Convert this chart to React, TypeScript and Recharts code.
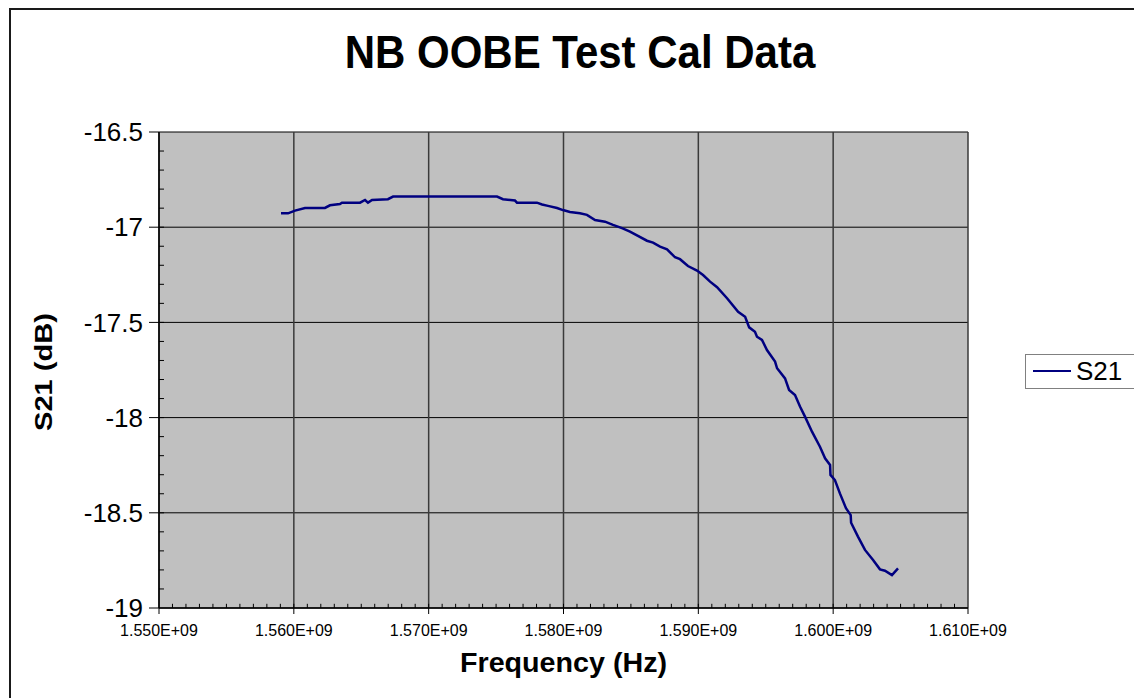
import React from 'react';
import { LineChart, Line, XAxis, YAxis, CartesianGrid, Legend, ReferenceLine } from 'recharts';

// Frequency in MHz (converted to Hz for plotting) and S21 in dB
const freqMHz = [
  1559.05, 1559.57, 1560.09, 1560.83, 1562.31, 1562.68, 1563.42, 1563.57, 1564.91, 1565.28,
  1565.5, 1565.8, 1566.98, 1567.36, 1575.07, 1575.51, 1576.4, 1576.55, 1578.03, 1578.41,
  1578.85, 1579.52, 1579.96, 1580.48, 1581.22, 1581.74, 1582.34, 1583.08, 1583.67, 1584.34,
  1584.93, 1585.52, 1586.19, 1586.64, 1587.16, 1587.68, 1588.27, 1588.64, 1589.23, 1589.9,
  1590.35, 1590.87, 1591.39, 1592.13, 1592.95, 1593.47, 1593.77, 1594.2, 1594.35, 1594.72,
  1595.09, 1595.69, 1595.84, 1596.43, 1596.73, 1597.17, 1597.54, 1597.91, 1598.43, 1599.02,
  1599.4, 1599.77, 1599.8, 1600.13, 1600.5, 1600.95, 1601.3, 1601.33, 1601.84, 1602.36,
  1602.96, 1603.47, 1603.84, 1604.36, 1604.81,
];
const s21Db = [
  -16.927, -16.927, -16.913, -16.899, -16.899, -16.885, -16.878, -16.871, -16.871, -16.857,
  -16.871, -16.857, -16.853, -16.839, -16.839, -16.853, -16.86, -16.871, -16.871, -16.881,
  -16.888, -16.899, -16.91, -16.92, -16.927, -16.935, -16.962, -16.971, -16.988, -17.005,
  -17.023, -17.046, -17.071, -17.081, -17.102, -17.116, -17.158, -17.168, -17.204, -17.228,
  -17.251, -17.286, -17.315, -17.373, -17.444, -17.47, -17.526, -17.549, -17.575, -17.592,
  -17.645, -17.706, -17.741, -17.794, -17.855, -17.881, -17.942, -17.995, -18.074, -18.153,
  -18.214, -18.249, -18.301, -18.328, -18.398, -18.476, -18.512, -18.552, -18.625, -18.695,
  -18.748, -18.797, -18.804, -18.827, -18.792,
];

const seriesName = 'S21';
const chartTitle = 'NB OOBE Test Cal Data';
const xAxisTitle = 'Frequency (Hz)';
const yAxisTitle = 'S21 (dB)';

const xTicks = [1.55e9, 1.56e9, 1.57e9, 1.58e9, 1.59e9, 1.6e9, 1.61e9];
const xTickLabels = ['1.550E+09', '1.560E+09', '1.570E+09', '1.580E+09', '1.590E+09', '1.600E+09', '1.610E+09'];
const yTicks = [-19, -18.5, -18, -17.5, -17, -16.5];
const yTickLabels = ['-19', '-18.5', '-18', '-17.5', '-17', '-16.5'];
const xDomain: [number, number] = [1.55e9, 1.61e9];
const yDomain: [number, number] = [-19, -16.5];
// minor tick marks (inside the plot area): every 1 MHz on x, every 0.1 dB on y
const minorXTicks = Array.from({ length: 59 }, (_, i) => 1.551e9 + i * 1e6);
const minorYTicks = Array.from({ length: 24 }, (_, i) => Math.round((-18.9 + i * 0.1) * 10) / 10);
// minor tick lengths expressed in axis units
const minorXTickLen = 0.022; // dB
const minorYTickLen = 0.37e6; // Hz

const data = freqMHz.map((m, i) => ({ f: m * 1e6, s21: s21Db[i] }));

const FONT = '"Liberation Sans", Arial, sans-serif';

const fmtX = (v: number) => {
  const i = xTicks.findIndex((t) => Math.abs(t - v) < 1);
  return i >= 0 ? xTickLabels[i] : '';
};
const fmtY = (v: number) => {
  const i = yTicks.findIndex((t) => Math.abs(t - v) < 1e-6);
  return i >= 0 ? yTickLabels[i] : '';
};

const XTitle = (props: any) => {
  const vb = props.viewBox || { x: 0, y: 0, width: 0, height: 0 };
  return (
    <text
      x={vb.x + vb.width / 2}
      y={vb.y + 64}
      textAnchor="middle"
      fontSize={28}
      fontWeight="bold"
      fill="#000"
      fontFamily={FONT}
      textLength={207}
      lengthAdjust="spacingAndGlyphs"
    >
      {xAxisTitle}
    </text>
  );
};

const YTitle = (props: any) => {
  const vb = props.viewBox || { x: 0, y: 0, width: 0, height: 0 };
  const cx = vb.x + 34;
  const cy = vb.y + vb.height / 2 + 2;
  return (
    <text
      x={cx}
      y={cy}
      transform={`rotate(-90, ${cx}, ${cy})`}
      textAnchor="middle"
      dominantBaseline="central"
      fontSize={23}
      fontWeight="bold"
      fill="#000"
      fontFamily={FONT}
      textLength={118}
      lengthAdjust="spacingAndGlyphs"
    >
      {yAxisTitle}
    </text>
  );
};

const renderLegend = (props: any) => {
  const payload = props.payload || [];
  return (
    <div
      style={{
        width: 120,
        height: 35,
        border: '1px solid #808080',
        background: '#fff',
        boxSizing: 'border-box',
        position: 'relative',
        fontFamily: FONT,
      }}
    >
      {payload.map((entry: any, idx: number) => (
        <div key={idx} style={{ position: 'absolute', left: 0, top: 0, width: '100%', height: '100%' }}>
          <svg width={40} height={6} style={{ position: 'absolute', left: 7, top: 13 }}>
            <line x1={0} y1={3} x2={38} y2={3} stroke={entry.color} strokeWidth={2} />
          </svg>
          <span
            style={{
              position: 'absolute',
              left: 50,
              top: 1,
              fontSize: 26,
              lineHeight: '30px',
              color: '#000',
            }}
          >
            {entry.value}
          </span>
        </div>
      ))}
    </div>
  );
};

export default function App() {
  return (
    <div
      style={{
        position: 'absolute',
        left: 0,
        top: 0,
        width: 1134,
        height: 698,
        overflow: 'hidden',
        background: '#fff',
        fontFamily: FONT,
      }}
    >
      <div
        style={{
          position: 'absolute',
          left: 9,
          top: 8,
          width: 1140,
          height: 720,
          border: '2px solid #1a1a1a',
          boxSizing: 'border-box',
        }}
      />
      <div
        style={{
          position: 'absolute',
          left: 0,
          top: 32,
          width: 1160,
          textAlign: 'center',
          fontSize: 42,
          lineHeight: '42px',
          fontWeight: 'bold',
          color: '#000',
          fontFamily: FONT,
          transform: 'scaleY(1.08)',
        }}
      >
        {chartTitle}
      </div>
      <div style={{ position: 'absolute', left: 0, top: 0 }}>
        <LineChart
          width={1134}
          height={698}
          data={data}
          margin={{ top: 132, right: 166, bottom: 20, left: 10 }}
        >
          <CartesianGrid
            vertical={false}
            stroke="#000"
            strokeWidth={1}
            fill="#C0C0C0"
            fillOpacity={1}
            horizontalValues={yTicks}
          />
          <CartesianGrid horizontal={false} stroke="#3a3a3a" strokeWidth={1.5} verticalValues={xTicks} />
          {minorXTicks.map((t) => (
            <ReferenceLine
              key={`mx${t}`}
              segment={[
                { x: t, y: yDomain[0] },
                { x: t, y: yDomain[0] + minorXTickLen },
              ]}
              stroke="#000"
              strokeWidth={1}
              ifOverflow="visible"
            />
          ))}
          {minorYTicks.map((t) => (
            <ReferenceLine
              key={`my${t}`}
              segment={[
                { x: xDomain[0], y: t },
                { x: xDomain[0] + minorYTickLen, y: t },
              ]}
              stroke="#000"
              strokeWidth={1}
              ifOverflow="visible"
            />
          ))}
          <XAxis
            dataKey="f"
            type="number"
            domain={xDomain}
            ticks={xTicks}
            interval={0}
            allowDataOverflow
            tickFormatter={fmtX}
            height={70}
            tickSize={6}
            tickMargin={11}
            axisLine={{ stroke: '#000', strokeWidth: 1.5 }}
            tickLine={{ stroke: '#000' }}
            tick={{ fontSize: 16, fill: '#000', fontFamily: FONT }}
            label={<XTitle />}
          />
          <YAxis
            type="number"
            domain={yDomain}
            ticks={yTicks}
            interval={0}
            allowDataOverflow
            tickFormatter={fmtY}
            width={149}
            tickSize={10}
            tickMargin={6}
            axisLine={{ stroke: '#000', strokeWidth: 1.5 }}
            tickLine={{ stroke: '#000' }}
            tick={{ fontSize: 26, fill: '#000', fontFamily: FONT }}
            label={<YTitle />}
          />
          <Legend
            content={renderLegend}
            wrapperStyle={{ position: 'absolute', left: 1025, top: 354, width: 0, height: 0, overflow: 'visible' }}
          />
          <Line
            type="linear"
            dataKey="s21"
            name={seriesName}
            stroke="#000080"
            strokeWidth={2.5}
            dot={false}
            activeDot={false}
            isAnimationActive={false}
          />
        </LineChart>
      </div>
    </div>
  );
}
